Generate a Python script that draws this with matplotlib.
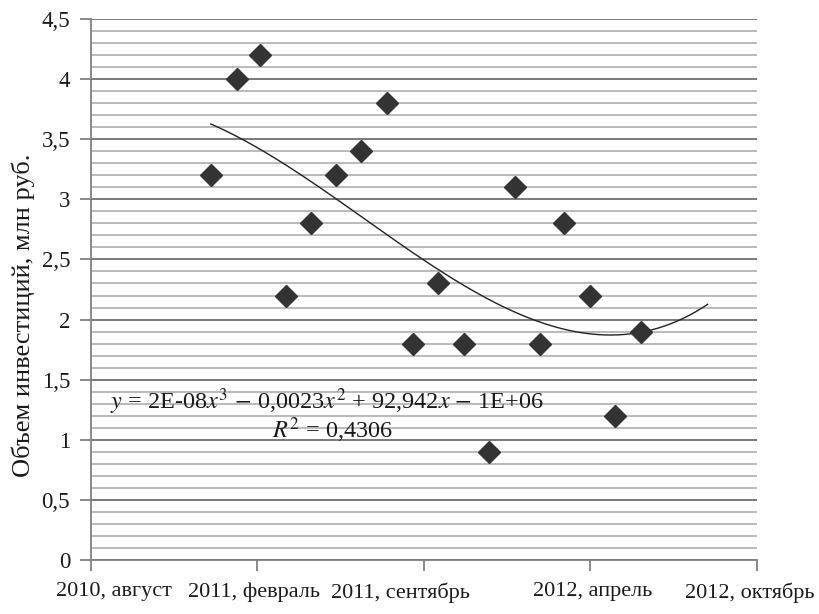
import numpy as np
import pandas as pd
import matplotlib
matplotlib.use("Agg")
import matplotlib.pyplot as plt
from matplotlib.ticker import FuncFormatter, MultipleLocator
from matplotlib.transforms import ScaledTranslation

plt.rcParams['font.family'] = ['Liberation Serif', 'DejaVu Serif']
plt.rcParams['mathtext.fontset'] = 'stix'

# -------------------------------
# Данные
# -------------------------------
months = ['2011-01', '2011-02', '2011-03', '2011-04', '2011-05', '2011-06',
          '2011-07', '2011-08', '2011-09', '2011-10', '2011-11', '2011-12',
          '2012-01', '2012-02', '2012-03', '2012-04', '2012-05', '2012-06']
invest = [3.2, 4.0, 4.2, 2.2, 2.8, 3.2, 3.4, 3.8, 1.8, 2.3, 1.8, 0.9,
          3.1, 1.8, 2.8, 2.2, 1.2, 1.9]

tick_dates = ['2010-08-10', '2011-02-26', '2011-09-14', '2012-04-01', '2012-10-18']
tick_labels = ['2010, август', '2011, февраль', '2011, сентябрь',
               '2012, апрель', '2012, октябрь']

forward_days = 80

base = pd.Timestamp('1899-12-30')


def serial(d):
    return (pd.to_datetime(d) - base).days


x = np.array([serial(m) for m in months], dtype=float)
y = np.array(invest)
xt = [serial(d) for d in tick_dates]

# полиномиальный тренд 3-й степени
x0 = x.mean()
coef = np.polyfit(x - x0, y, 3)
xf = np.linspace(x[0], x[-1] + forward_days, 300)
yf = np.polyval(coef, xf - x0)

fig = plt.figure(figsize=(8.19, 6.14), dpi=100)
ax = fig.add_axes([0.111, 0.088, 0.813, 0.881])

ax.set_xlim(xt[0], xt[-1])
ax.set_ylim(0, 4.5)

ax.yaxis.set_major_locator(MultipleLocator(0.5))
ax.yaxis.set_minor_locator(MultipleLocator(0.1))
ax.grid(which='major', axis='y', color='#7a7a7a', linewidth=1.4, zorder=0)
ax.grid(which='minor', axis='y', color='#b4b4b4', linewidth=1.3, zorder=0)
ax.set_axisbelow(True)

ax.plot(xf, yf, color='#222222', linewidth=1.0, zorder=3)
ax.plot(x, y, linestyle='none', marker='D', markersize=11,
        color='#333333', zorder=4)

ax.set_xticks(xt)
ax.set_xticklabels(tick_labels)
ax.yaxis.set_major_formatter(FuncFormatter(lambda v, p: f'{v:g}'.replace('.', ',')))

for s in ['top', 'right']:
    ax.spines[s].set_visible(False)
for s in ['left', 'bottom']:
    ax.spines[s].set_color('#808080')
    ax.spines[s].set_linewidth(1.3)

ax.tick_params(axis='x', which='major', length=8, width=1.3, color='#808080',
               pad=8, labelsize=16, labelcolor='#1a1a1a')
ax.tick_params(axis='y', which='major', length=8, width=1.3, color='#808080',
               pad=7, labelsize=16.5, labelcolor='#1a1a1a')
ax.tick_params(axis='y', which='minor', length=0)

# подписи оси X немного сдвинуты, как в оригинале
shifts = [23, -3, -23, 2, -7]
for lab, dx in zip(ax.get_xticklabels(), shifts):
    lab.set_transform(lab.get_transform() +
                      ScaledTranslation(dx / 100, 0, fig.dpi_scale_trans))

ax.set_ylabel('Объем инвестиций, млн руб.', fontsize=19, color='#1a1a1a')
ax.yaxis.set_label_coords(-0.084, 0.453)

ax.text(0.0285, 0.292,
        r'$y$ = 2E-08$x^3$ $-$ 0,0023$x^2$ + 92,942$x$ $-$ 1E+06',
        transform=ax.transAxes, fontsize=17.5, color='#1a1a1a',
        va='center', ha='left')
ax.text(0.272, 0.240, r'$R^2$ = 0,4306',
        transform=ax.transAxes, fontsize=17.5, color='#1a1a1a',
        va='center', ha='left')

fig.savefig('out.png', dpi=100)
